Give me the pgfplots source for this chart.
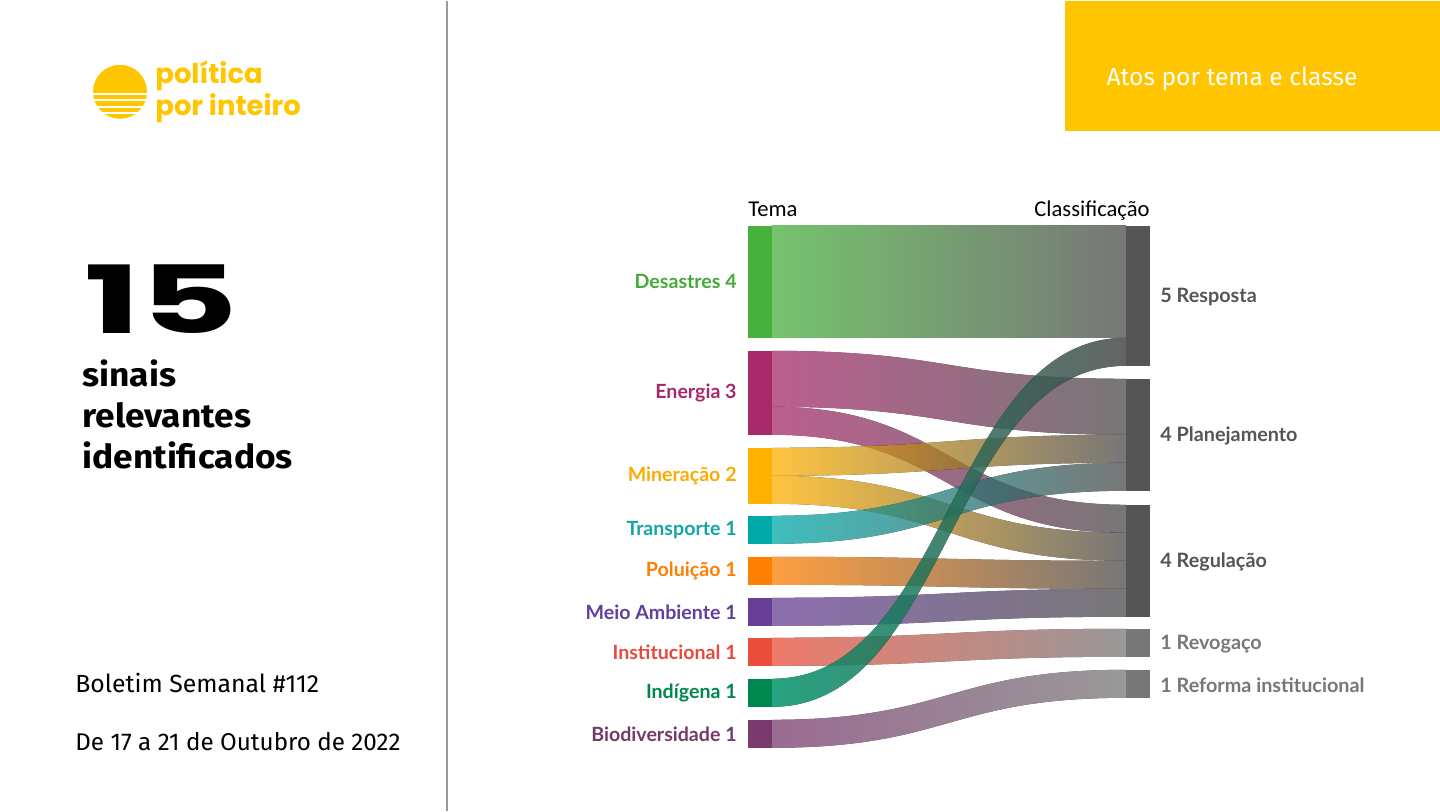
\documentclass[border=0pt]{standalone}
\usepackage{pgfplots}
\pgfplotsset{compat=1.18}
\usepackage{fontspec}
\setmainfont{Lato}
\newfontfamily\carlito{Carlito}
\newfontfamily\fira{Fira Sans}
\newfontfamily\pop{Poppins}
\definecolor{ylw}{HTML}{FFC600}
\definecolor{cDes}{HTML}{48B03D}
\definecolor{cEne}{HTML}{A62A6A}
\definecolor{cMin}{HTML}{FFB000}
\definecolor{cTra}{HTML}{00A8A8}
\definecolor{cPol}{HTML}{FF7F00}
\definecolor{cMei}{HTML}{673F96}
\definecolor{cIns}{HTML}{E94E3A}
\definecolor{cInd}{HTML}{00874F}
\definecolor{cIndF}{HTML}{00946A}
\definecolor{cIndM}{HTML}{0E7A62}
\definecolor{cBio}{HTML}{7A3A6D}
\definecolor{lDes}{HTML}{44AA3A}
\definecolor{lEne}{HTML}{A6286B}
\definecolor{lMin}{HTML}{FFAA00}
\definecolor{lTra}{HTML}{14A5A5}
\definecolor{lPol}{HTML}{FF7F00}
\definecolor{lMei}{HTML}{60409A}
\definecolor{lIns}{HTML}{E64A3A}
\definecolor{lInd}{HTML}{00874F}
\definecolor{lBio}{HTML}{733A6C}
\definecolor{gDark}{HTML}{555555}
\definecolor{gLight}{HTML}{777777}
\definecolor{fDark}{HTML}{4A4A4A}
\definecolor{fLight}{HTML}{777777}
% flow: colour, right colour, srcTop, srcBot, tgtTop, tgtBot
\newcommand{\flow}[6]{%
  \begin{scope}[transparency group, opacity=0.75]
  \fill[left color=#1, right color=#2]
    (axis cs:772,#3) .. controls (axis cs:949,#3) and (axis cs:949,#5) .. (axis cs:1126,#5)
    -- (axis cs:1126,#6) .. controls (axis cs:949,#6) and (axis cs:949,#4) .. (axis cs:772,#4) -- cycle;
  \end{scope}}
\newcommand{\nodebar}[4]{% x0, top, bottom, colour
  \addplot[fill=#4, draw=none] coordinates {(#1,#2) (#1+24,#2) (#1+24,#3) (#1,#3)} -- cycle;}
\begin{document}
\begin{tikzpicture}
\begin{axis}[scale only axis, width=720pt, height=405pt,
  xmin=0, xmax=1440, ymin=0, ymax=810, y dir=reverse,
  hide axis, clip=false]
\fill[white] (axis cs:0,0) rectangle (axis cs:1440,810);
% header
\fill[ylw] (axis cs:1065,0) rectangle (axis cs:1440,130);
\node[white, font=\fira\fontsize{12.3}{14}\selectfont] at (axis cs:1232,78) {Atos por tema e classe};
\draw[gray!80, line width=0.8pt] (axis cs:447,0) -- (axis cs:447,810);
% logo
\fill[ylw] (axis cs:120,91) circle[radius=13.5pt];
\draw[white, line width=1.2pt] (axis cs:90,93) -- (axis cs:150,93);
\draw[white, line width=1.2pt] (axis cs:90,99.5) -- (axis cs:150,99.5);
\draw[white, line width=1.2pt] (axis cs:90,106) -- (axis cs:150,106);
\draw[white, line width=1.2pt] (axis cs:90,112.5) -- (axis cs:150,112.5);
\node[anchor=west, ylw, align=left, inner sep=0pt, font=\pop\bfseries\fontsize{13.7}{12}\selectfont] at (axis cs:155,91) {política\\por inteiro};
% left text
\node[anchor=base west, inner sep=0pt] at (axis cs:84,333) {\scalebox{1.6}[1]{\pop\bfseries\fontsize{47}{47}\selectfont\smash{15}}};
\node[anchor=base west, inner sep=0pt] at (axis cs:82,386) {\scalebox{1.07}[1]{\fira\bfseries\fontsize{16.5}{18}\selectfont sinais}};
\node[anchor=base west, inner sep=0pt] at (axis cs:82,427) {\scalebox{1.07}[1]{\fira\bfseries\fontsize{16.5}{18}\selectfont relevantes}};
\node[anchor=base west, inner sep=0pt] at (axis cs:82,468) {\scalebox{1.07}[1]{\fira\bfseries\fontsize{16.5}{18}\selectfont identificados}};
\node[anchor=base west, inner sep=0pt, font=\fira\fontsize{12.4}{14}\selectfont] at (axis cs:75,692) {Boletim Semanal \#112};
\node[anchor=base west, inner sep=0pt, font=\fira\fontsize{12.1}{14}\selectfont] at (axis cs:75,750) {De 17 a 21 de Outubro de 2022};
% column titles
\node[anchor=base west, inner sep=0pt, font=\carlito\fontsize{11.3}{13}\selectfont] at (axis cs:748,216) {Tema};
\node[anchor=base east, inner sep=0pt, font=\carlito\fontsize{11.3}{13}\selectfont] at (axis cs:1150,216) {Classificação};
% flows
\flow{cDes}{fDark}{225}{337}{225}{337}
\flow{cEne}{fDark}{350}{406}{378}{434}
\flow{cEne}{fDark}{406}{434}{504}{532}
\flow{cMin}{fDark}{447}{475}{434}{462}
\flow{cMin}{fDark}{475}{503}{532}{560}
\flow{cTra}{fDark}{515}{543}{462}{490}
\flow{cPol}{fDark}{556}{584}{560}{588}
\flow{cMei}{fDark}{597}{625}{588}{616}
\flow{cIns}{fLight}{637}{665}{628}{656}
\flow{cBio}{fLight}{719}{747}{669}{697}
\begin{scope}[transparency group, opacity=0.85]
\fill[left color=cIndF, middle color=cIndM, right color=fDark]
  (axis cs:772,678) .. controls (axis cs:949,678) and (axis cs:949,337) .. (axis cs:1126,337)
  -- (axis cs:1126,365) .. controls (axis cs:949,365) and (axis cs:949,706) .. (axis cs:772,706) -- cycle;
\end{scope}
% left nodes
\nodebar{748}{225}{337}{cDes}
\nodebar{748}{350}{434}{cEne}
\nodebar{748}{447}{503}{cMin}
\nodebar{748}{515}{543}{cTra}
\nodebar{748}{556}{584}{cPol}
\nodebar{748}{597}{625}{cMei}
\nodebar{748}{637}{665}{cIns}
\nodebar{748}{678}{706}{cInd}
\nodebar{748}{719}{747}{cBio}
% right nodes
\nodebar{1126}{225}{365}{gDark}
\nodebar{1126}{378}{490}{gDark}
\nodebar{1126}{504}{616}{gDark}
\nodebar{1126}{628}{656}{gLight}
\nodebar{1126}{669}{697}{gLight}
% left labels
\tikzset{ll/.style={anchor=east, inner sep=0pt, font=\bfseries\fontsize{9.8}{11}\selectfont}}
\node[ll, lDes] at (axis cs:737,281) {Desastres 4};
\node[ll, lEne] at (axis cs:737,392) {Energia 3};
\node[ll, lMin] at (axis cs:737,475) {Mineração 2};
\node[ll, lTra] at (axis cs:737,529) {Transporte 1};
\node[ll, lPol] at (axis cs:737,570) {Poluição 1};
\node[ll, lMei] at (axis cs:737,611) {Meio Ambiente 1};
\node[ll, lIns] at (axis cs:737,651) {Institucional 1};
\node[ll, lInd] at (axis cs:737,692) {Indígena 1};
\node[ll, lBio] at (axis cs:737,733) {Biodiversidade 1};
% right labels
\tikzset{rl/.style={anchor=west, inner sep=0pt, font=\bfseries\fontsize{9.9}{11}\selectfont}}
\node[rl, gDark] at (axis cs:1160,296) {5 Resposta};
\node[rl, gDark] at (axis cs:1160,435) {4 Planejamento};
\node[rl, gDark] at (axis cs:1160,561) {4 Regulação};
\node[rl, gLight] at (axis cs:1160,643) {1 Revogaço};
\node[rl, gLight] at (axis cs:1160,684) {1 Reforma institucional};
\end{axis}
\end{tikzpicture}
\end{document}
